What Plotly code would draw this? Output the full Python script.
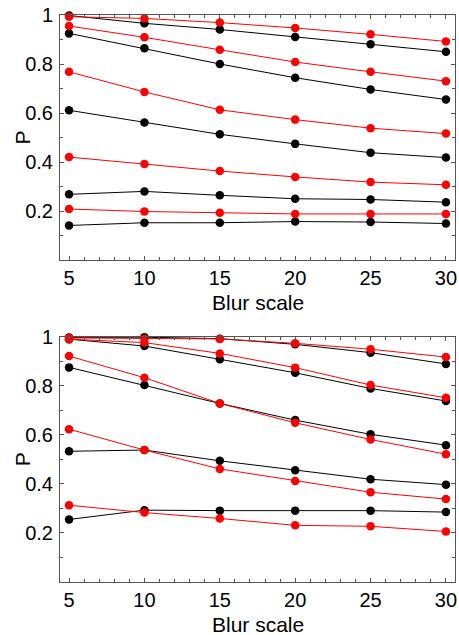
import plotly.graph_objects as go

blur = [5, 10, 15, 20, 25, 30]

# Top panel
top_black = [
    [0.998, 0.966, 0.941, 0.910, 0.881, 0.850],
    [0.925, 0.864, 0.800, 0.744, 0.696, 0.655],
    [0.611, 0.561, 0.513, 0.474, 0.438, 0.418],
    [0.268, 0.280, 0.264, 0.250, 0.247, 0.236],
    [0.141, 0.152, 0.152, 0.157, 0.155, 0.149],
]
top_red = [
    [0.993, 0.986, 0.969, 0.947, 0.921, 0.892],
    [0.955, 0.909, 0.858, 0.808, 0.768, 0.730],
    [0.768, 0.686, 0.613, 0.573, 0.538, 0.516],
    [0.420, 0.392, 0.363, 0.339, 0.318, 0.307],
    [0.208, 0.198, 0.193, 0.188, 0.188, 0.188],
]

# Bottom panel
bot_black = [
    [0.997, 0.998, 0.992, 0.969, 0.935, 0.889],
    [0.990, 0.962, 0.908, 0.853, 0.789, 0.738],
    [0.875, 0.803, 0.728, 0.660, 0.602, 0.558],
    [0.533, 0.538, 0.494, 0.456, 0.419, 0.397],
    [0.255, 0.293, 0.291, 0.291, 0.291, 0.285],
]
bot_red = [
    [0.995, 0.992, 0.991, 0.973, 0.949, 0.917],
    [0.990, 0.976, 0.932, 0.874, 0.803, 0.751],
    [0.921, 0.833, 0.728, 0.649, 0.581, 0.521],
    [0.623, 0.538, 0.461, 0.412, 0.366, 0.338],
    [0.313, 0.283, 0.259, 0.231, 0.227, 0.206],
]

x_ticks = [5, 10, 15, 20, 25, 30]
y_ticks = [0.2, 0.4, 0.6, 0.8, 1.0]
y_tick_text = ["0.2", "0.4", "0.6", "0.8", "1"]

FONT = "Liberation Sans, Arial, Helvetica, sans-serif"

fig = go.Figure()

def add_series(data, color, xa, ya):
    for ys in data:
        fig.add_trace(go.Scatter(
            x=blur, y=ys, mode="lines+markers",
            line=dict(color=color, width=1),
            marker=dict(color=color, size=8.5),
            xaxis=xa, yaxis=ya, showlegend=False, cliponaxis=False,
        ))

add_series(top_black, "#000000", "x", "y")
add_series(top_red, "#ff0000", "x", "y")
add_series(bot_black, "#000000", "x2", "y2")
add_series(bot_red, "#ff0000", "x2", "y2")

axis_common = dict(
    showline=True, linecolor="#555555", linewidth=1, mirror="ticks",
    ticks="inside", ticklen=4, tickcolor="#555555", showgrid=False, zeroline=False,
    tickfont=dict(family=FONT, size=20, color="black"), automargin=False,
)

xaxis = dict(axis_common, range=[4.4, 30.6], tickvals=x_ticks,
             minor=dict(ticks="inside", dtick=1, ticklen=3, tickcolor="#555555", showgrid=False))
yaxis = dict(axis_common, range=[0, 1.0], tickvals=y_ticks, ticktext=y_tick_text,
             ticklabelstandoff=2,
             minor=dict(ticks="inside", dtick=0.1, tick0=0, ticklen=3, tickcolor="#555555", showgrid=False))

top_dom = [0.5679, 1.0]
bot_dom = [0.0, 0.4326]

fig.update_layout(
    width=459, height=635,
    margin=dict(l=60, r=4, t=15, b=53, autoexpand=False),
    paper_bgcolor="white", plot_bgcolor="white",
    xaxis=dict(xaxis, domain=[0, 1], anchor="y"),
    yaxis=dict(yaxis, domain=top_dom, anchor="x"),
    xaxis2=dict(xaxis, domain=[0, 1], anchor="y2"),
    yaxis2=dict(yaxis, domain=bot_dom, anchor="x2"),
)

ann_font = dict(family=FONT, size=21, color="black")
fig.add_annotation(text="Blur scale", xref="paper", yref="paper", x=0.5, y=0.4938,
                   showarrow=False, xanchor="center", yanchor="middle", font=ann_font)
fig.add_annotation(text="Blur scale", xref="paper", yref="paper", x=0.5, y=-0.0758,
                   showarrow=False, xanchor="center", yanchor="middle", font=ann_font)
p_font = dict(family=FONT, size=21, color="black")
fig.add_annotation(text="P", xref="paper", yref="paper", x=-0.0962, y=0.784, textangle=-90,
                   showarrow=False, xanchor="center", yanchor="middle", font=p_font)
fig.add_annotation(text="P", xref="paper", yref="paper", x=-0.0962, y=0.2163, textangle=-90,
                   showarrow=False, xanchor="center", yanchor="middle", font=p_font)

fig.write_html(
    "out.html",
    config={"displayModeBar": False},
    post_script="document.body.style.margin='0';document.body.style.padding='0';document.body.style.overflow='hidden';",
)
